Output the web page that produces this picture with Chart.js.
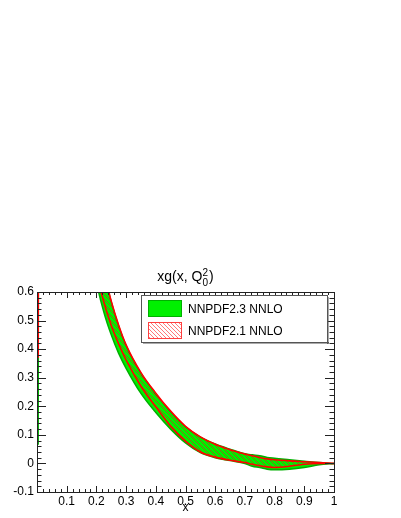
<!DOCTYPE html>
<html>
<head>
<meta charset="utf-8">
<script src="https://cdn.jsdelivr.net/npm/chart.js@4/dist/chart.umd.min.js"></script>
<style>
  body { margin: 0; background: #fff; }
  canvas { display: block; }
</style>
</head>
<body>
<canvas id="myChart" width="401" height="518"></canvas>
<script>
// x grid of the bands
const xs = [0.004, 0.006, 0.05, 0.1, 0.15, 0.175, 0.2, 0.225, 0.25, 0.275, 0.3, 0.35, 0.4, 0.45,
            0.5, 0.55, 0.6, 0.65, 0.7, 0.725, 0.75, 0.775, 0.8, 0.85, 0.9, 0.95, 1];

// NNPDF2.3 NNLO band (green)
const nnpdf23_lo = [0.065, 1.6, 3.0, 2.0, 1.1, 0.84, 0.64, 0.53, 0.45, 0.385, 0.333, 0.245, 0.178, 0.12,
                    0.072, 0.038, 0.02, 0.01, 0.0, -0.01, -0.014, -0.02, -0.022, -0.02, -0.014, -0.005, 0];
const nnpdf23_hi = [3.0, 3.0, 4.0, 2.4, 1.35, 1.03, 0.80, 0.67, 0.565, 0.48, 0.412, 0.315, 0.243, 0.18,
                    0.128, 0.092, 0.068, 0.05, 0.034, 0.03, 0.027, 0.021, 0.018, 0.013, 0.008, 0.003, 0];

// NNPDF2.1 NNLO band (red hatched)
const nnpdf21_lo = [0.37, 1.7, 3.1, 2.05, 1.15, 0.88, 0.675, 0.565, 0.483, 0.418, 0.362, 0.27, 0.198, 0.13,
                    0.078, 0.04, 0.022, 0.011, 0.003, -0.003, -0.008, -0.012, -0.014, -0.01, -0.003, 0.0, 0];
const nnpdf21_hi = [3.0, 3.0, 4.0, 2.45, 1.37, 1.05, 0.805, 0.675, 0.568, 0.484, 0.415, 0.318, 0.246, 0.183,
                    0.13, 0.093, 0.067, 0.048, 0.033, 0.027, 0.021, 0.016, 0.013, 0.009, 0.006, 0.003, 0];

// axis ticks
const xTickLabels = ['0.1', '0.2', '0.3', '0.4', '0.5', '0.6', '0.7', '0.8', '0.9', '1'];
const yTickLabels = ['-0.1', '0', '0.1', '0.2', '0.3', '0.4', '0.5', '0.6'];

const FONT = "'Liberation Sans', Arial, sans-serif";

function toPoints(ys) {
    return xs.map((x, i) => ({ x: x, y: ys[i] }));
}

// red "\\\" hatch
function makeHatch(size, color, width) {
    const c = document.createElement('canvas');
    c.width = size; c.height = size;
    const g = c.getContext('2d');
    g.strokeStyle = color;
    g.lineWidth = width;
    g.beginPath();
    g.moveTo(-1, -1); g.lineTo(size + 1, size + 1);
    g.moveTo(-1, size - 1); g.lineTo(1, size + 1);
    g.moveTo(size - 1, -1); g.lineTo(size + 1, 1);
    g.stroke();
    return g.createPattern(c, 'repeat');
}

const ctx = document.getElementById('myChart').getContext('2d');
const hatch = makeHatch(5, 'rgba(210,40,30,0.75)', 0.9);
const legendHatch = makeHatch(4, 'rgba(255,90,90,0.9)', 0.9);

// frame, ticks, labels, title and legend drawn ROOT style
const rootFrame = {
    id: 'rootFrame',
    afterDraw(chart) {
        const c = chart.ctx;
        const a = chart.chartArea;
        const sx = chart.scales.x, sy = chart.scales.y;
        c.save();
        c.strokeStyle = '#222';
        c.lineWidth = 1;
        c.strokeRect(Math.round(a.left) + 0.5, Math.round(a.top) + 0.5,
                     Math.round(a.right - a.left), Math.round(a.bottom - a.top));

        // x ticks (bottom and top, inward)
        c.beginPath();
        for (let i = 0; i <= 50; i++) {
            const px = Math.round(sx.getPixelForValue(i * 0.02)) + 0.5;
            const len = i % 5 === 0 ? 6 : 3;
            c.moveTo(px, a.bottom); c.lineTo(px, a.bottom - len);
            c.moveTo(px, a.top); c.lineTo(px, a.top + len);
        }
        // y ticks (left and right, inward)
        for (let i = -5; i <= 30; i++) {
            const py = Math.round(sy.getPixelForValue(i * 0.02)) + 0.5;
            const len = i % 5 === 0 ? 9 : 4.5;
            c.moveTo(a.left, py); c.lineTo(a.left + len, py);
            c.moveTo(a.right, py); c.lineTo(a.right - len, py);
        }
        c.stroke();

        c.fillStyle = '#000';
        c.font = '12px ' + FONT;
        c.textAlign = 'center';
        c.textBaseline = 'alphabetic';
        xTickLabels.forEach(t => {
            c.fillText(t, sx.getPixelForValue(parseFloat(t)), a.bottom + 13);
        });
        c.fillText('x', sx.getPixelForValue(0.5), a.bottom + 19);

        c.textAlign = 'right';
        c.textBaseline = 'middle';
        yTickLabels.forEach(t => {
            c.fillText(t, a.left - 3, sy.getPixelForValue(parseFloat(t)));
        });

        // title xg(x, Q^2_0)
        c.font = '14px ' + FONT;
        c.textAlign = 'left';
        c.textBaseline = 'alphabetic';
        const base = 'xg(x, Q';
        const wBase = c.measureText(base).width;
        c.font = '10px ' + FONT;
        const wIdx = c.measureText('2').width;
        c.font = '14px ' + FONT;
        const wEnd = c.measureText(')').width;
        const total = wBase + wIdx + 1 + wEnd;
        const tx = sx.getPixelForValue(0.5) - total / 2;
        const ty = a.top - 11;
        c.fillText(base, tx, ty);
        c.font = '10px ' + FONT;
        c.fillText('2', tx + wBase, ty - 5);
        c.fillText('0', tx + wBase, ty + 5);
        c.font = '14px ' + FONT;
        c.fillText(')', tx + wBase + wIdx + 1, ty);

        // legend
        const lx = 141, ly = 295, lw = 186, lh = 47;
        c.fillStyle = '#555';
        c.fillRect(lx + 2, ly + lh, lw, 1.5);
        c.fillRect(lx + lw, ly + 2, 1.5, lh);
        c.fillStyle = '#fff';
        c.fillRect(lx, ly, lw, lh);
        c.strokeStyle = '#555';
        c.strokeRect(lx + 0.5, ly + 0.5, lw, lh);

        c.fillStyle = '#00f000';
        c.fillRect(148, 300, 33, 16);
        c.strokeStyle = '#00b000';
        c.strokeRect(148.5, 300.5, 33, 16);

        c.fillStyle = legendHatch;
        c.fillRect(148, 322, 33, 16);
        c.strokeStyle = '#ff4040';
        c.strokeRect(148.5, 322.5, 33, 16);

        c.fillStyle = '#000';
        c.font = '12px ' + FONT;
        c.fillText('NNPDF2.3 NNLO', 188, 313);
        c.fillText('NNPDF2.1 NNLO', 188, 335);
        c.restore();
    }
};

new Chart(ctx, {
    type: 'line',
    data: {
        datasets: [
            { label: 'NNPDF2.1 lo', data: toPoints(nnpdf21_lo), borderColor: '#ff0000', borderWidth: 1.6, fill: false },
            { label: 'NNPDF2.1 NNLO', data: toPoints(nnpdf21_hi), borderColor: '#ff0000', borderWidth: 1.6,
              fill: '-1', backgroundColor: hatch },
            { label: 'NNPDF2.3 lo', data: toPoints(nnpdf23_lo), borderColor: '#00b000', borderWidth: 1.5, fill: false },
            { label: 'NNPDF2.3 NNLO', data: toPoints(nnpdf23_hi), borderColor: '#00b000', borderWidth: 1.5,
              fill: '-1', backgroundColor: '#00f000' }
        ]
    },
    options: {
        responsive: false,
        animation: false,
        devicePixelRatio: 1,
        layout: { padding: { left: 37, right: 67, top: 292, bottom: 26 } },
        elements: {
            point: { radius: 0 },
            line: { cubicInterpolationMode: 'monotone' }
        },
        scales: {
            x: { type: 'linear', min: 0, max: 1, display: false },
            y: { type: 'linear', min: -0.1, max: 0.6, display: false }
        },
        plugins: {
            legend: { display: false },
            tooltip: { enabled: false }
        }
    },
    plugins: [rootFrame]
});
</script>
</body>
</html>
